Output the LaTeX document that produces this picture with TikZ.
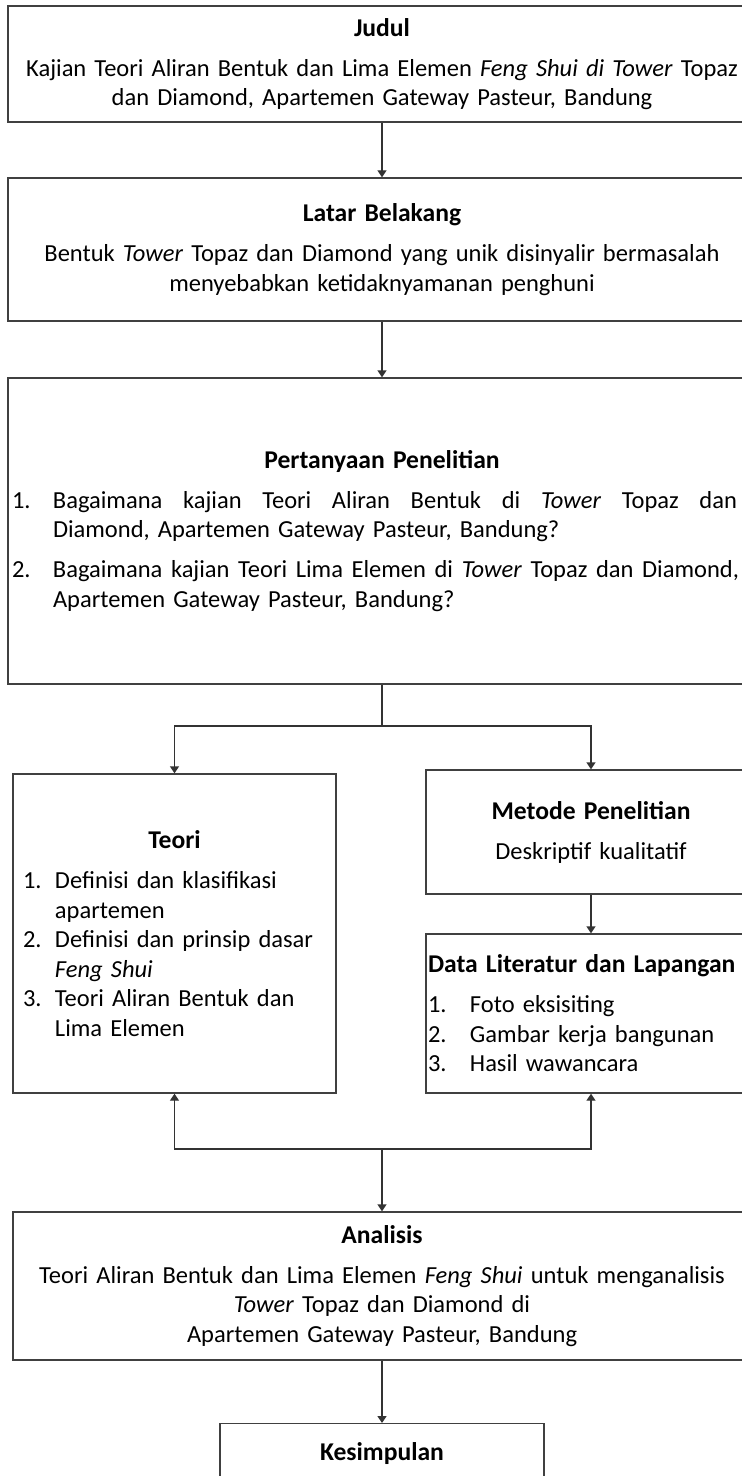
\documentclass[tikz,border=0pt]{standalone}
\usepackage{fontspec}
\setmainfont{Carlito}
\usetikzlibrary{arrows.meta}

\newcommand{\nomor}[2]{\makebox[#1][l]{#2}}
\newcommand{\tebal}[1]{{\fontsize{12.8pt}{14.75pt}\selectfont\bfseries #1}}
\newcommand{\rata}[2]{{\spaceskip=0.22em plus 3em\makebox[#1][s]{#2}}}

\begin{document}
\begin{tikzpicture}[
        x=0.5pt, y=-0.5pt, % satuan piksel gambar
        kotak/.style={draw=black!75, line width=0.7pt, rectangle, inner sep=0pt,
            font=\fontsize{12.25pt}{14.75pt}\selectfont}, % kotak isi
        garis/.style={draw=black!80, line width=0.7pt},
        panah/.style={garis, -{Triangle[length=3.5pt, width=4.5pt]}},
    ]
    \useasboundingbox (0,0) rectangle (741,1476);

    \node[kotak, minimum width=374pt, minimum height=58pt, text width=360pt, align=center] (judul) at (382,64)
        {\tebal{Judul}\\[5.25pt]
         Kajian Teori Aliran Bentuk dan Lima Elemen \textit{Feng Shui di Tower} Topaz\\
         dan Diamond, Apartemen Gateway Pasteur, Bandung};
    \node[kotak, minimum width=374pt, minimum height=71.5pt, text width=360pt, align=center] (latar) at (382,249.5)
        {\tebal{Latar Belakang}\\[5.25pt]
         Bentuk \textit{Tower} Topaz dan Diamond yang unik disinyalir bermasalah\\
         menyebabkan ketidaknyamanan penghuni};
    \node[kotak, minimum width=374pt, minimum height=153pt, text width=370pt, align=left] (tanya) at (382,531)
        {\makebox[370pt]{\tebal{Pertanyaan Penelitian}}\\[5.25pt]
         \nomor{20.5pt}{1.}\rata{342pt}{Bagaimana kajian Teori Aliran Bentuk di \textit{Tower} Topaz dan}\\
         \hspace*{20.5pt}Diamond, Apartemen Gateway Pasteur, Bandung?\\[5.25pt]
         \nomor{20.5pt}{2.}\rata{343pt}{Bagaimana kajian Teori Lima Elemen di \textit{Tower} Topaz dan Diamond,}\\
         \hspace*{20.5pt}Apartemen Gateway Pasteur, Bandung?};

    \node[kotak, minimum width=161.5pt, minimum height=159.5pt, text width=151.5pt, align=left] (teori) at (174.5,933.5)
        {\makebox[151.5pt]{\tebal{Teori}}\\[5.25pt]
         \nomor{16pt}{1.}Definisi dan klasifikasi\\
         \hspace*{16pt}apartemen\\
         \nomor{16pt}{2.}Definisi dan prinsip dasar\\
         \hspace*{16pt}\textit{Feng Shui}\\
         \nomor{16pt}{3.}Teori Aliran Bentuk dan\\
         \hspace*{16pt}Lima Elemen};
    \node[kotak, minimum width=165pt, minimum height=62pt, text width=163pt, align=center] (metode) at (591,832)
        {\tebal{Metode Penelitian}\\[5.25pt]
         Deskriptif kualitatif};
    \node[kotak, minimum width=165pt, minimum height=79.5pt, text width=163pt, align=left] (data) at (591,1013.5)
        {\tebal{Data Literatur dan Lapangan}\\[5.25pt]
         \nomor{21pt}{1.}Foto eksisiting\\
         \nomor{21pt}{2.}Gambar kerja bangunan\\
         \nomor{21pt}{3.}Hasil wawancara};

    \node[kotak, minimum width=369pt, minimum height=74pt, text width=360pt, align=center] (analisis) at (382,1286)
        {\tebal{Analisis}\\[5.25pt]
         Teori Aliran Bentuk dan Lima Elemen \textit{Feng Shui} untuk menganalisis\\
         \textit{Tower} Topaz dan Diamond di\\
         Apartemen Gateway Pasteur, Bandung};
    \node[kotak, anchor=north, minimum width=162pt, text height=18.4pt, text depth=40pt] (simpul) at (382,1423)
        {\tebal{Kesimpulan}};

    % percabangan
    \coordinate (pisah) at (382,726);
    \coordinate (gabung) at (382,1149);

    \draw[panah] (judul.south) -- (latar.north);
    \draw[panah] (latar.south) -- (tanya.north);
    \draw[garis] (tanya.south) -- (pisah);
    \draw[panah] (pisah) -| (teori.north);
    \draw[panah] (pisah) -| (metode.north);
    \draw[panah] (metode.south) -- (data.north);
    \draw[panah] (gabung) -| (teori.south);
    \draw[panah] (gabung) -| (data.south);
    \draw[panah] (gabung) -- (analisis.north);
    \draw[panah] (analisis.south) -- (simpul.north);
\end{tikzpicture}
\end{document}
